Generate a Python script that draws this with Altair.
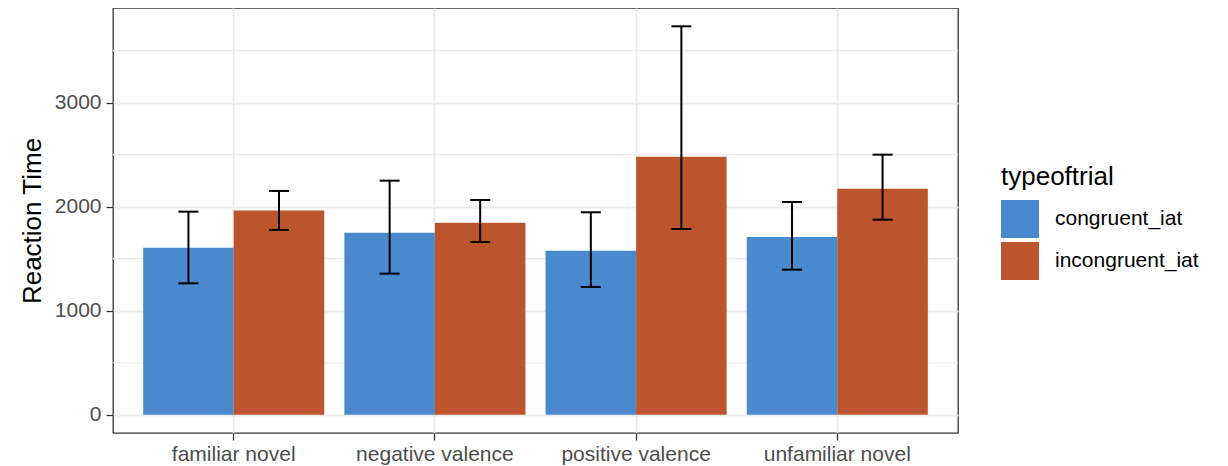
import altair as alt
import pandas as pd

categories = ["familiar novel", "negative valence", "positive valence", "unfamiliar novel"]
trial_types = ["congruent_iat", "incongruent_iat"]
congruent_mean = [1604, 1750, 1577, 1708]
congruent_lower = [1263, 1356, 1228, 1394]
congruent_upper = [1952, 2250, 1946, 2045]
incongruent_mean = [1962, 1846, 2481, 2173]
incongruent_lower = [1776, 1660, 1785, 1875]
incongruent_upper = [2151, 2064, 3734, 2500]
y_major = [0, 1000, 2000, 3000]
y_minor = [500, 1500, 2500, 3500]
colors = ["#4A89CE", "#BC552D"]

rows = []
for i, c in enumerate(categories):
    rows.append({"category": c, "typeoftrial": trial_types[0], "mean": congruent_mean[i],
                 "lower": congruent_lower[i], "upper": congruent_upper[i]})
    rows.append({"category": c, "typeoftrial": trial_types[1], "mean": incongruent_mean[i],
                 "lower": incongruent_lower[i], "upper": incongruent_upper[i]})
df = pd.DataFrame(rows)
minor_df = pd.DataFrame({"v": y_minor})

FONT = "Liberation Sans"
yscale = alt.Scale(domain=[-176, 3910], nice=False, zero=False)
xscale = alt.Scale(domain=categories, paddingInner=0.1, paddingOuter=0.15)
offscale = alt.Scale(domain=trial_types, paddingInner=0, paddingOuter=0)

x_enc = alt.X("category:N", sort=categories, scale=xscale,
              axis=alt.Axis(title=None, bandPosition=0.5, grid=True, gridColor="#EBEBEB",
                            gridWidth=1.8, domain=False, tickColor="#333333", tickWidth=1.3,
                            tickSize=7, labelFontSize=21, labelColor="#4D4D4D",
                            labelPadding=3, labelAngle=0, labelFont=FONT))
xoff = alt.XOffset("typeoftrial:N", sort=trial_types, scale=offscale)

minor = alt.Chart(minor_df).mark_rule(color="#EBEBEB", strokeWidth=1.1).encode(
    y=alt.Y("v:Q", scale=yscale)
)

bars = alt.Chart(df).mark_bar(strokeWidth=0).encode(
    x=x_enc,
    xOffset=xoff,
    y=alt.Y("mean:Q", scale=yscale,
            axis=alt.Axis(values=y_major, format="d", title="Reaction Time", grid=True,
                          gridColor="#EBEBEB", gridWidth=1.8, domain=False,
                          tickColor="#333333", tickWidth=1.3, tickSize=7, labelFontSize=21,
                          labelColor="#4D4D4D", labelPadding=5, labelFont=FONT,
                          titleFont=FONT, titleFontSize=26, titleFontWeight="normal",
                          titleColor="black", titlePadding=9)),
    y2=alt.datum(0),
    color=alt.Color("typeoftrial:N", sort=trial_types,
                    scale=alt.Scale(domain=trial_types, range=colors),
                    legend=alt.Legend(title="typeoftrial", orient="none", legendX=888,
                                      legendY=156, symbolType="square", symbolSize=1444,
                                      symbolStrokeWidth=0, symbolOpacity=1,
                                      titleFontSize=26, titleFontWeight="normal",
                                      titleFont=FONT, titleColor="black", titlePadding=10,
                                      labelFontSize=21, labelFont=FONT, labelColor="black",
                                      labelOffset=16, rowPadding=4)),
)

err = alt.Chart(df).mark_rule(color="black", strokeWidth=2).encode(
    x=alt.X("category:N", sort=categories, scale=xscale),
    xOffset=xoff,
    y=alt.Y("lower:Q", scale=yscale),
    y2="upper:Q",
)
cap_hi = alt.Chart(df).mark_tick(color="black", thickness=2, size=20, opacity=1).encode(
    x=alt.X("category:N", sort=categories, scale=xscale),
    xOffset=xoff,
    y=alt.Y("upper:Q", scale=yscale),
)
cap_lo = alt.Chart(df).mark_tick(color="black", thickness=2, size=20, opacity=1).encode(
    x=alt.X("category:N", sort=categories, scale=xscale),
    xOffset=xoff,
    y=alt.Y("lower:Q", scale=yscale),
)

chart = alt.layer(minor, bars, err, cap_hi, cap_lo).properties(
    width=845, height=425,
    autosize=alt.AutoSizeParams(type="none"),
    padding={"left": 105, "top": 0, "right": 262, "bottom": 32},
).configure(font=FONT).configure_view(stroke="#333333", strokeWidth=1.3)

chart.save("out.html", embed_options={"renderer": "svg", "actions": False})
